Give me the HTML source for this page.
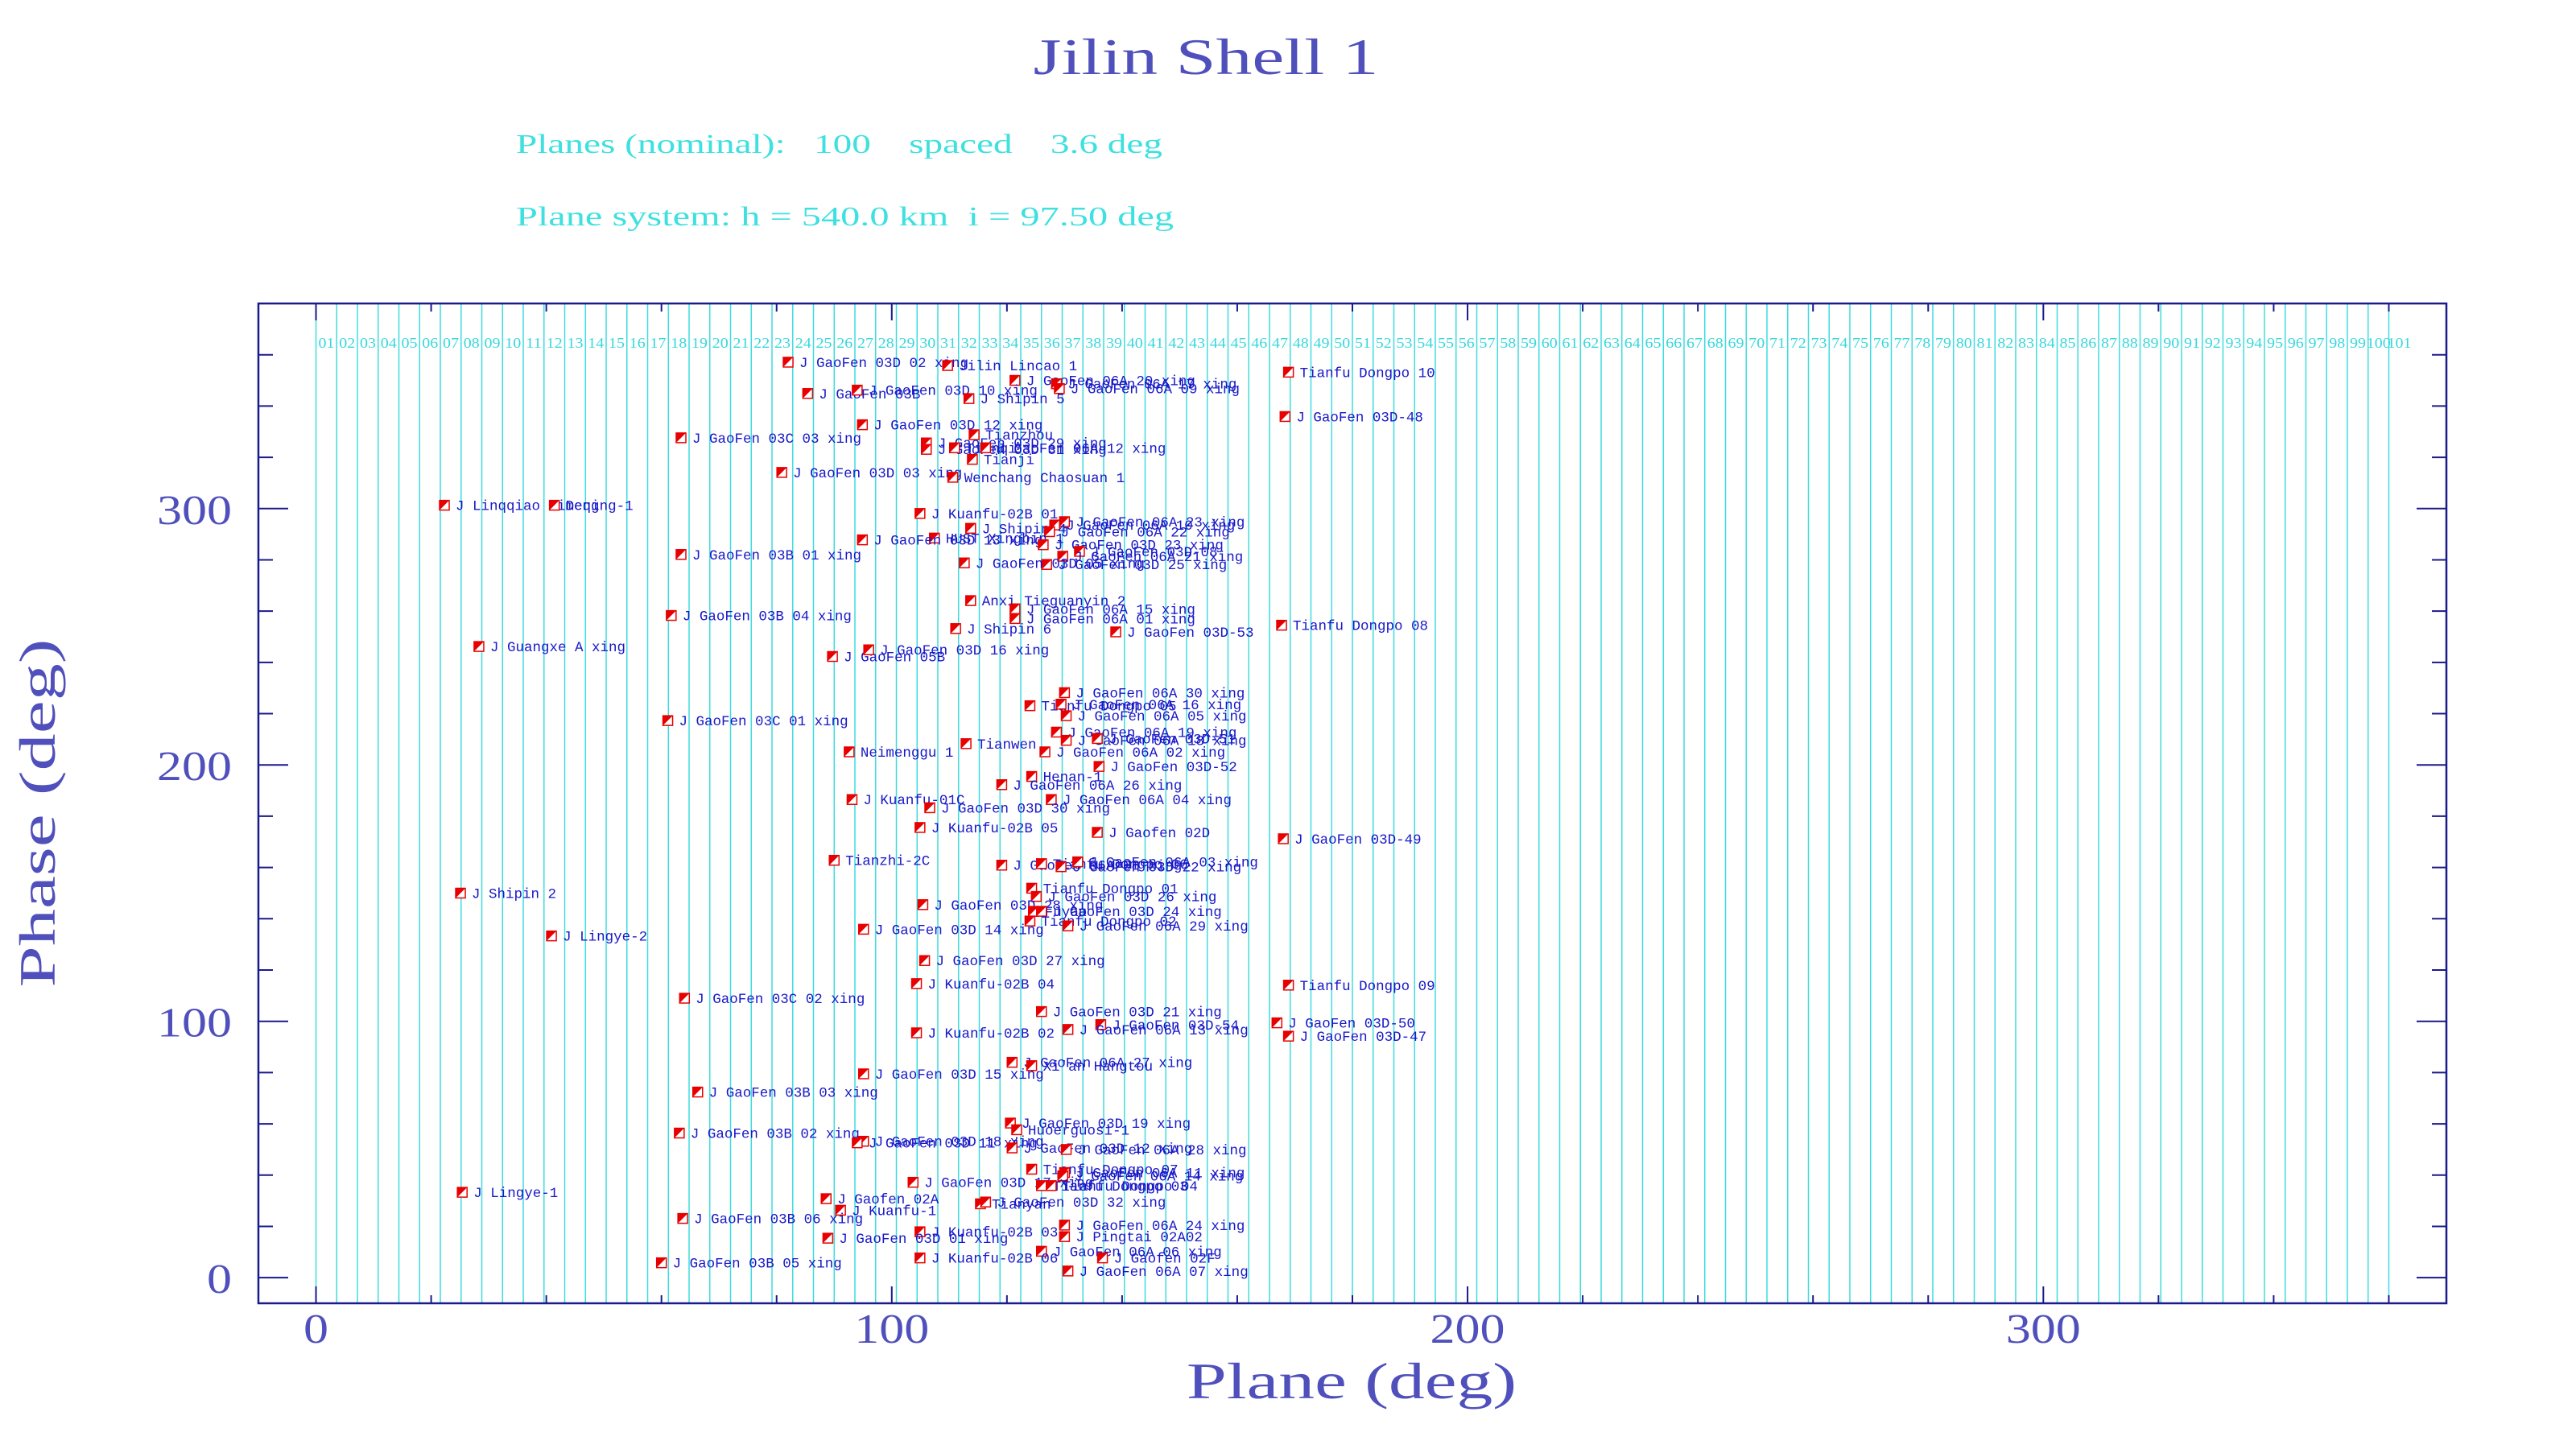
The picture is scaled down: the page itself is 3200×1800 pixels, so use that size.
<!DOCTYPE html>
<html><head><meta charset="utf-8"><title>Jilin Shell 1</title>
<style>
html,body{margin:0;padding:0;background:#fff;}
svg{display:block;}
.lbl{font-family:"Liberation Mono",monospace;font-size:17.5px;fill:#1818c8;}
.pl{font-family:"Liberation Serif",serif;font-size:18px;fill:#38d8dc;}
.ax{font-family:"Liberation Serif",serif;fill:#5050bc;font-weight:normal;}
</style></head>
<body>
<svg id="chart" width="3200" height="1800" viewBox="0 0 3200 1800" xmlns="http://www.w3.org/2000/svg">
<rect x="0" y="0" width="3200" height="1800" fill="#fff"/>
<text x="1498" y="92" text-anchor="middle" class="ax" font-size="64" textLength="429" lengthAdjust="spacingAndGlyphs">Jilin Shell 1</text>
<text x="641" y="190" font-family="Liberation Serif, serif" font-size="34" fill="#3ee0e0" textLength="803" lengthAdjust="spacingAndGlyphs" xml:space="preserve">Planes (nominal):   100    spaced    3.6 deg</text>
<text x="641" y="280" font-family="Liberation Serif, serif" font-size="34" fill="#3ee0e0" textLength="817" lengthAdjust="spacingAndGlyphs" xml:space="preserve">Plane system: h = 540.0 km  i = 97.50 deg</text>
<g id="planes"></g>
<g id="axes"></g>
<g id="points"></g>
<text x="1679" y="1737" text-anchor="middle" class="ax" font-size="64" textLength="410" lengthAdjust="spacingAndGlyphs">Plane (deg)</text>
<text transform="translate(68,1010) rotate(-90)" text-anchor="middle" class="ax" font-size="64" textLength="433" lengthAdjust="spacingAndGlyphs">Phase (deg)</text>
</svg>
<script>
const planeCount = 100;
const planeSpacing = 3.6;
const xTickValues = [0, 100, 200, 300];
const yTickValues = [0, 100, 200, 300];
const names = [
"J GaoFen 03D 02 xing","Jilin Lincao 1","J GaoFen 06A 20 xing","J GaoFen 06A 17 xing","J GaoFen 06A 09 xing",
"J GaoFen 03B","J GaoFen 03D 10 xing","J Shipin 5","J GaoFen 03D 12 xing","J GaoFen 03C 03 xing",
"Tianzhou","J GaoFen 03D 29 xing","J GaoFen 03D 31 xing","Tianqi","J GaoFen 06A 12 xing",
"Tianji","J GaoFen 03D 03 xing","Wenchang Chaosuan 1","J Linqqiao Yimeng","Deqing-1",
"J Kuanfu-02B 01","J GaoFen 06A 23 xing","J GaoFen 06A 10 xing","J Shipin 4","J GaoFen 06A 22 xing",
"HUST Xingbin 1","J GaoFen 03D 13 xing","J GaoFen 03D 23 xing","J GaoFen 03D-08","J GaoFen 06A 21 xing",
"J GaoFen 03D 25 xing","J GaoFen 03D 05 xing","J GaoFen 03B 01 xing","Tianfu Dongpo 10","J GaoFen 03D-48",
"Anxi Tieguanyin 2","J GaoFen 06A 15 xing","J GaoFen 06A 01 xing","J Shipin 6","J GaoFen 03D-53",
"Tianfu Dongpo 08","J GaoFen 03B 04 xing","J Guangxe A xing","J GaoFen 05B","J GaoFen 03D 16 xing",
"J GaoFen 06A 30 xing","Tianfu Dongpo 05","J GaoFen 06A 16 xing","J GaoFen 06A 05 xing","J GaoFen 03C 01 xing",
"J GaoFen 06A 19 xing","J GaoFen 06A 18 xing","J GaoFen 03D-51","Tianwen","Neimenggu 1",
"J GaoFen 06A 02 xing","J GaoFen 03D-52","Henan-1","J GaoFen 06A 26 xing","J Kuanfu-01C",
"J GaoFen 06A 04 xing","J GaoFen 03D 30 xing","J Kuanfu-02B 05","J Gaofen 02D","J GaoFen 03D-49",
"Tianzhi-2C","J GaoFen 06A 08 xing","Tianfu Dongpo 06","J GaoFen 03D 22 xing","J GaoFen 06A 03 xing",
"Tianfu Dongpo 01","J GaoFen 03D 26 xing","J GaoFen 03D 28 xing","Fuyao","J GaoFen 03D 24 xing",
"Tianfu Dongpo 02","J GaoFen 06A 29 xing","J GaoFen 03D 14 xing","J Shipin 2","J Lingye-2",
"J GaoFen 03D 27 xing","J Kuanfu-02B 04","Tianfu Dongpo 09","J GaoFen 03C 02 xing","J GaoFen 03D 21 xing",
"J GaoFen 03D-54","J GaoFen 06A 13 xing","J Kuanfu-02B 02","J GaoFen 03D-50","J GaoFen 03D-47",
"J GaoFen 06A 27 xing","Xi'an Hangtou","J GaoFen 03D 15 xing","J GaoFen 03B 03 xing","J GaoFen 03D 19 xing",
"Huoerguosi-1","J GaoFen 03B 02 xing","J GaoFen 03D 18 xing","J GaoFen 03D 11 xing","J GaoFen 03D 12 xing",
"J GaoFen 06A 28 xing","Tianfu Dongpo 07","J GaoFen 06A 11 xing","J GaoFen 06A 14 xing","J GaoFen 03D 17 xing",
"Tianfu Dongpo 03","Tianfu Dongpo 04","J Gaofen 02A","Tianyan","J GaoFen 03D 32 xing",
"J Kuanfu-1","J Lingye-1","J GaoFen 03B 06 xing","J GaoFen 06A 24 xing","J Kuanfu-02B 03",
"J Pingtai 02A02","J GaoFen 03D 01 xing","J GaoFen 06A 06 xing","J Gaofen 02F","J Kuanfu-02B 06",
"J GaoFen 06A 07 xing","J GaoFen 03B 05 xing"
];
const planeDeg = [
82.0,109.7,121.4,128.6,129.1, 85.4,94.0,113.4,94.9,63.4, 114.3,106.0,106.0,110.9,116.3,
114.0,80.9,110.6,22.3,41.4, 104.9,130.0,128.3,113.7,127.4, 107.4,94.9,126.3,132.6,129.7,
126.9,112.6,63.4,168.9,168.3, 113.7,121.4,121.4,111.1,138.9, 167.7,61.7,28.3,89.7,96.0,
130.0,124.0,129.4,130.3,61.1, 128.6,130.3,135.7,112.9,92.6, 126.6,136.0,124.3,119.1,93.1,
127.7,106.6,104.9,135.7,168.0, 90.0,119.1,126.0,129.4,132.3, 124.3,125.1,105.4,124.6,126.0,
124.0,130.6,95.1,25.1,40.9, 105.7,104.3,168.9,64.0,126.0, 136.3,130.6,104.3,166.9,168.9,
120.9,124.3,95.1,66.3,120.6, 121.7,63.1,95.1,94.0,120.9, 130.3,124.3,130.0,129.7,103.7,
126.0,127.7,88.6,115.4,116.3, 91.1,25.4,63.7,130.0,104.9, 130.0,88.9,126.0,136.6,104.9,
130.6,60.0
];
const phaseDeg = [
357.1,355.8,350.0,348.7,346.8, 344.9,346.2,342.9,332.7,327.6, 328.8,325.6,323.1,323.7,323.7,
319.2,314.1,312.2,301.3,301.3, 298.1,294.9,293.6,292.3,291.0, 288.5,287.8,285.9,283.3,281.4,
278.2,278.8,282.1,353.2,335.9, 264.1,260.9,257.1,253.2,251.9, 254.5,258.3,246.2,242.3,244.9,
228.2,223.1,223.7,219.2,217.3, 212.8,209.6,210.3,208.3,205.1, 205.1,199.4,195.5,192.3,186.5,
186.5,183.3,175.6,173.7,171.2, 162.8,160.9,161.5,160.3,162.2, 151.9,148.7,145.5,142.9,142.9,
139.1,137.2,135.9,150.0,133.3, 123.7,114.7,114.1,109.0,103.8, 98.7,96.8,95.5,99.4,94.2,
84.0,82.7,79.5,72.4,60.3, 57.7,56.4,53.2,52.6,50.6, 50.0,42.3,41.0,39.7,37.2,
35.9,35.9,30.8,28.8,29.5, 26.3,33.3,23.1,20.5,17.9, 16.0,15.4,10.3,7.7,7.7,
2.6,5.8
];

const NS = "http://www.w3.org/2000/svg";
const X0 = 321, X1 = 3039, Y0 = 377, Y1 = 1619;
const xMin = -10, xMax = 370, yMin = -10, yMax = 380;
function sx(v){ return X0 + (v - xMin) / (xMax - xMin) * (X1 - X0); }
function sy(v){ return Y1 - (v - yMin) / (yMax - yMin) * (Y1 - Y0); }
function mk(tag, attrs, parent){
  const e = document.createElementNS(NS, tag);
  for (const k in attrs) e.setAttribute(k, attrs[k]);
  parent.appendChild(e);
  return e;
}

const pg = document.getElementById('planes');
for (let k = 0; k <= planeCount; k++) {
  const x = sx(k * planeSpacing);
  const ln = mk('line', {x1:x, y1:Y0, x2:x, y2:Y1, stroke:'#3fdcdf', 'stroke-width':1.5}, pg);
  
  
  const lab = String(k + 1).padStart(2, '0');
  const t = mk('text', {x: x + 13, y: 432, 'text-anchor':'middle', class:'pl', textLength: lab.length * 10, lengthAdjust:'spacingAndGlyphs'}, pg);
  t.textContent = lab;
  
  
}

const ag = document.getElementById('axes');
const frame = mk('rect', {x:X0, y:Y0, width:X1-X0, height:Y1-Y0, fill:'none', stroke:'#1a1a8c', 'stroke-width':2.5}, ag);


for (let v = 0; v <= 360; v += 20) {
  const x = sx(v), len = (v % 100 === 0) ? 21 : 10;
  const a = mk('line', {x1:x, y1:Y1, x2:x, y2:Y1-len, stroke:'#1a1a8c', 'stroke-width':2}, ag);
  
  
  const b = mk('line', {x1:x, y1:Y0, x2:x, y2:Y0+len, stroke:'#1a1a8c', 'stroke-width':2}, ag);
  
  
}
for (let v = 0; v <= 370; v += 20) {
  const y = sy(v), len = (v % 100 === 0) ? 37 : 18;
  const a = mk('line', {x1:X0, y1:y, x2:X0+len, y2:y, stroke:'#1a1a8c', 'stroke-width':2}, ag);
  
  
  const b = mk('line', {x1:X1, y1:y, x2:X1-len, y2:y, stroke:'#1a1a8c', 'stroke-width':2}, ag);
  
  
}
xTickValues.forEach(v => {
  const s = String(v);
  const t = mk('text', {x:sx(v), y:1668, 'text-anchor':'middle', class:'ax', 'font-size':52, textLength:s.length*31, lengthAdjust:'spacingAndGlyphs'}, ag);
  t.textContent = s;
  
  
});
yTickValues.forEach(v => {
  const s = String(v);
  const t = mk('text', {x:288, y:sy(v)+19, 'text-anchor':'end', class:'ax', 'font-size':52, textLength:s.length*31, lengthAdjust:'spacingAndGlyphs'}, ag);
  t.textContent = s;
  
  
});

const ptg = document.getElementById('points');
for (let i = 0; i < names.length; i++) {
  const cx = sx(planeDeg[i]), cy = sy(phaseDeg[i]);
  const g = mk('g', {}, ptg);
  
  
  mk('rect', {x:cx-6, y:cy-6, width:12, height:12, fill:'#ffffff', stroke:'#e80000', 'stroke-width':1.5}, g);
  mk('polygon', {points:`${cx-6},${cy-6} ${cx+6},${cy-6} ${cx-6},${cy+6}`, fill:'#e80000'}, g);
  const t = mk('text', {x:cx+14, y:cy+6, class:'lbl'}, g);
  t.textContent = names[i];
  
  
}
</script>
</body></html>
